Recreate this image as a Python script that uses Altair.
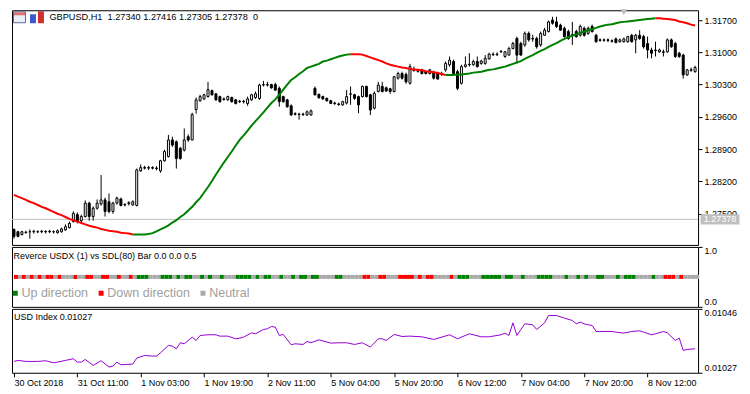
import altair as alt
import pandas as pd

F = "Liberation Sans"

# ---------------- data: GBPUSD H1 candles (index 0 = 30 Oct 2018 19:00) -------------
opens = [1.2716,1.2711,1.2705,1.2709,1.2711,1.2711,1.2711,1.2712,1.2711,1.2712,
         1.2711,1.2709,1.2711,1.2715,1.2720,1.2733,1.2748,1.2735,1.2744,1.2773,
         1.2744,1.2762,1.2771,1.2780,1.2776,1.2755,1.2773,1.2782,1.2770,1.2772,
         1.2769,1.2768,1.2843,1.2850,1.2849,1.2850,1.2849,1.2843,1.2865,1.2874,
         1.2910,1.2906,1.2892,1.2888,1.2917,1.2910,1.2976,1.2995,1.2999,1.3004,
         1.3017,1.3010,1.3004,1.2999,1.2997,1.3002,1.2997,1.2993,1.2994,1.2989,
         1.2997,1.3002,1.3000,1.3029,1.3030,1.3030,1.3030,1.3022,1.3004,1.2997,
         1.2984,1.2967,1.2965,1.2966,1.2964,1.2964,1.3022,1.3009,1.3004,1.3000,
         1.2995,1.2990,1.2988,1.2986,1.2990,1.3009,1.3008,1.3004,1.3004,1.3026,
         1.3008,1.2979,1.3015,1.3026,1.3023,1.3021,1.3015,1.3044,1.3054,1.3052,
         1.3033,1.3062,1.3060,1.3062,1.3058,1.3054,1.3057,1.3054,1.3052,1.3062,
         1.3073,1.3080,1.3058,1.3033,1.3069,1.3074,1.3073,1.3080,1.3076,1.3076,
         1.3086,1.3096,1.3095,1.3101,1.3091,1.3094,1.3108,1.3130,1.3119,1.3116,
         1.3141,1.3130,1.3130,1.3116,1.3137,1.3145,1.3170,1.3166,1.3159,1.3152,
         1.3145,1.3138,1.3145,1.3137,1.3152,1.3141,1.3156,1.3137,1.3127,1.3126,
         1.3127,1.3125,1.3129,1.3123,1.3123,1.3123,1.3137,1.3127,1.3137,1.3134,
         1.3119,1.3105,1.3105,1.3101,1.3101,1.3101,1.3127,1.3119,1.3098,1.3094,
         1.3051,1.3062,1.3058]
highs = [1.2718,1.2713,1.2713,1.2713,1.2716,1.2715,1.2714,1.2715,1.2714,1.2715,
         1.2714,1.2716,1.2720,1.2727,1.2733,1.2755,1.2753,1.2748,1.2779,1.2776,
         1.2766,1.2781,1.2834,1.2785,1.2794,1.2776,1.2787,1.2785,1.2773,1.2777,
         1.2779,1.2848,1.2857,1.2854,1.2854,1.2853,1.2853,1.2867,1.2889,1.2921,
         1.2917,1.2909,1.2895,1.2935,1.2922,1.2969,1.3002,1.3008,1.3010,1.3036,
         1.3019,1.3012,1.3006,1.3002,1.3006,1.3004,1.2999,1.2997,1.2997,1.3004,
         1.3010,1.3015,1.3032,1.3038,1.3036,1.3032,1.3034,1.3026,1.3006,1.2999,
         1.2987,1.2970,1.2969,1.2969,1.2974,1.2976,1.3026,1.3010,1.3006,1.3002,
         1.2997,1.2993,1.2991,1.2995,1.3018,1.3026,1.3010,1.3006,1.3028,1.3028,
         1.3010,1.3015,1.3036,1.3036,1.3026,1.3023,1.3049,1.3058,1.3058,1.3056,
         1.3075,1.3069,1.3064,1.3064,1.3060,1.3064,1.3060,1.3058,1.3058,1.3080,
         1.3091,1.3084,1.3062,1.3073,1.3091,1.3098,1.3084,1.3091,1.3084,1.3094,
         1.3099,1.3100,1.3100,1.3105,1.3103,1.3112,1.3123,1.3134,1.3123,1.3145,
         1.3145,1.3138,1.3134,1.3145,1.3153,1.3169,1.3177,1.3177,1.3162,1.3156,
         1.3149,1.3166,1.3149,1.3160,1.3156,1.3156,1.3160,1.3140,1.3130,1.3130,
         1.3130,1.3128,1.3132,1.3130,1.3132,1.3136,1.3140,1.3140,1.3148,1.3138,
         1.3134,1.3110,1.3123,1.3108,1.3106,1.3130,1.3130,1.3123,1.3101,1.3097,
         1.3064,1.3067,1.3071]
lows = [1.2696,1.2699,1.2703,1.2707,1.2696,1.2707,1.2708,1.2708,1.2707,1.2708,
        1.2707,1.2707,1.2709,1.2713,1.2718,1.2731,1.2729,1.2731,1.2742,1.2735,
        1.2735,1.2759,1.2768,1.2744,1.2751,1.2750,1.2770,1.2766,1.2766,1.2768,
        1.2768,1.2766,1.2841,1.2846,1.2845,1.2846,1.2844,1.2839,1.2863,1.2872,
        1.2895,1.2848,1.2867,1.2885,1.2906,1.2909,1.2967,1.2993,1.2997,1.3002,
        1.3006,1.2995,1.2991,1.2995,1.2995,1.2991,1.2987,1.2990,1.2989,1.2984,
        1.2995,1.2999,1.2997,1.3026,1.3026,1.3021,1.3017,1.2982,1.2991,1.2980,
        1.2963,1.2963,1.2954,1.2962,1.2963,1.2963,1.3006,1.2999,1.2997,1.2993,
        1.2988,1.2986,1.2984,1.2984,1.2987,1.2986,1.2997,1.2968,1.3002,1.3002,
        1.2964,1.2976,1.3013,1.3013,1.3015,1.3010,1.3013,1.3041,1.3041,1.3032,
        1.3030,1.3058,1.3056,1.3052,1.3052,1.3052,1.3041,1.3041,1.3049,1.3058,
        1.3069,1.3052,1.3018,1.3030,1.3067,1.3069,1.3071,1.3067,1.3073,1.3073,
        1.3084,1.3092,1.3092,1.3099,1.3088,1.3093,1.3107,1.3076,1.3093,1.3112,
        1.3123,1.3123,1.3108,1.3112,1.3136,1.3143,1.3160,1.3153,1.3147,1.3132,
        1.3127,1.3116,1.3132,1.3134,1.3134,1.3138,1.3143,1.3121,1.3123,1.3123,
        1.3122,1.3121,1.3120,1.3121,1.3121,1.3121,1.3121,1.3098,1.3127,1.3108,
        1.3087,1.3087,1.3091,1.3099,1.3091,1.3099,1.3110,1.3088,1.3088,1.3043,
        1.3049,1.3058,1.3056]
closes = [1.2701,1.2701,1.2711,1.2710,1.2711,1.2712,1.2711,1.2711,1.2712,1.2711,
          1.2711,1.2713,1.2717,1.2722,1.2729,1.2751,1.2733,1.2744,1.2773,1.2744,
          1.2762,1.2773,1.2780,1.2755,1.2755,1.2773,1.2784,1.2768,1.2769,1.2774,
          1.2776,1.2845,1.2850,1.2849,1.2850,1.2849,1.2848,1.2865,1.2885,1.2910,
          1.2899,1.2870,1.2870,1.2910,1.2910,1.2965,1.2997,1.3004,1.3008,1.3019,
          1.3008,1.2997,1.2993,1.2998,1.3004,1.2993,1.2989,1.2994,1.2993,1.2999,
          1.3008,1.3010,1.3029,1.3030,1.3029,1.3023,1.3018,1.2993,1.2993,1.2982,
          1.2964,1.2966,1.2966,1.2965,1.2971,1.2973,1.3008,1.3002,1.2999,1.2995,
          1.2989,1.2989,1.2987,1.2993,1.3004,1.3010,1.3000,1.2986,1.3026,1.3004,
          1.2975,1.3011,1.3029,1.3015,1.3016,1.3015,1.3047,1.3054,1.3044,1.3036,
          1.3069,1.3061,1.3059,1.3054,1.3054,1.3062,1.3044,1.3042,1.3054,1.3076,
          1.3083,1.3054,1.3022,1.3069,1.3073,1.3073,1.3080,1.3069,1.3081,1.3087,
          1.3096,1.3095,1.3096,1.3102,1.3101,1.3108,1.3119,1.3094,1.3094,1.3141,
          1.3127,1.3129,1.3112,1.3141,1.3148,1.3166,1.3163,1.3156,1.3148,1.3134,
          1.3130,1.3137,1.3134,1.3156,1.3137,1.3152,1.3145,1.3123,1.3126,1.3127,
          1.3126,1.3124,1.3121,1.3127,1.3129,1.3134,1.3123,1.3137,1.3130,1.3112,
          1.3105,1.3098,1.3104,1.3105,1.3100,1.3127,1.3112,1.3091,1.3091,1.3051,
          1.3062,1.3061,1.3067]

# SDL(80) moving average, one value per candle
ma_sdl = [1.2791,1.2787,1.2784,1.2780,1.2776,1.2773,1.2769,1.2765,1.2762,1.2758,
          1.2754,1.2750,1.2747,1.2743,1.2739,1.2736,1.2733,1.2730,1.2727,1.2724,
          1.2722,1.2720,1.2717,1.2715,1.2713,1.2712,1.2711,1.2709,1.2708,1.2707,
          1.2705,1.2705,1.2705,1.2705,1.2706,1.2708,1.2712,1.2716,1.2720,1.2725,
          1.2731,1.2736,1.2743,1.2749,1.2757,1.2765,1.2775,1.2784,1.2796,1.2808,
          1.2821,1.2835,1.2848,1.2861,1.2873,1.2885,1.2898,1.2910,1.2920,1.2930,
          1.2941,1.2951,1.2960,1.2970,1.2980,1.2990,1.2998,1.3008,1.3019,1.3030,
          1.3040,1.3046,1.3053,1.3059,1.3066,1.3069,1.3072,1.3075,1.3080,1.3082,
          1.3085,1.3088,1.3091,1.3093,1.3095,1.3096,1.3096,1.3096,1.3095,1.3092,
          1.3089,1.3086,1.3083,1.3080,1.3076,1.3073,1.3071,1.3069,1.3067,1.3066,
          1.3064,1.3063,1.3062,1.3061,1.3059,1.3058,1.3057,1.3055,1.3053,1.3051,
          1.3051,1.3051,1.3052,1.3052,1.3053,1.3054,1.3056,1.3057,1.3058,1.3060,
          1.3062,1.3063,1.3065,1.3067,1.3069,1.3072,1.3075,1.3078,1.3081,1.3086,
          1.3090,1.3094,1.3099,1.3103,1.3107,1.3112,1.3116,1.3120,1.3125,1.3129,
          1.3133,1.3136,1.3139,1.3142,1.3145,1.3148,1.3150,1.3153,1.3156,1.3158,
          1.3160,1.3161,1.3163,1.3165,1.3166,1.3167,1.3168,1.3169,1.3170,1.3171,
          1.3172,1.3173,1.3174,1.3174,1.3173,1.3172,1.3171,1.3170,1.3167,1.3165,
          1.3163,1.3160,1.3158]
ma_segments = [(0, 30, "down"), (30, 85, "up"), (85, 109, "down"),
               (109, 162, "up"), (162, 172, "down")]

# Reverce USDX bar states
up_bars = [31, 32, 33, 37, 38, 39, 41, 43, 44, 47, 49, 52, 56, 57, 58, 59, 61, 63, 64,
           67, 70, 72, 73, 75, 76, 81, 82, 112, 113, 114, 118, 119, 120, 121, 122,
           124, 125, 128, 132, 133, 134, 135, 139, 142, 144, 147, 148, 152, 154, 155,
           156, 161]
down_bars = [0, 2, 4, 6, 8, 9, 11, 15, 18, 19, 22, 23, 26, 29, 88, 89, 92, 93, 97,
             98, 99, 100, 102, 104, 105, 110, 164, 165, 166, 168]
bar_level = 0.5

# USD Index
usd_i = [0, 1, 3, 6, 8, 10, 11, 13, 15, 16, 17, 18, 20, 22, 24, 25, 26, 27, 30, 31,
         33, 35, 36, 37, 39, 40, 41, 42, 43, 45, 46, 47, 49, 51, 52, 54, 56, 57, 58,
         60, 61, 63, 64, 65, 66, 67, 68, 70, 71, 73, 74, 75, 77, 80, 82, 84, 86, 88,
         90, 92, 93, 94, 96, 98, 100, 103, 106, 110, 112, 115, 118, 120, 123, 124,
         125, 126, 127, 129, 131, 132, 134, 135, 137, 139, 141, 142, 143, 144, 145,
         146, 147, 149, 151, 152, 154, 156, 158, 159, 161, 162, 164, 165, 167, 168,
         169, 170, 172]
usd_v = [0.0103037, 0.0103067, 0.0103037, 0.0103037, 0.0103057, 0.0102997, 0.0103017,
         0.0103067, 0.0103116, 0.0103017, 0.0103017, 0.0103096, 0.0102918, 0.0103057,
         0.0102869, 0.0102898, 0.0103017, 0.0102938, 0.0102958, 0.0103136, 0.0103215,
         0.0103195, 0.0103195, 0.0103294, 0.0103512, 0.0103492, 0.0103413, 0.0103591,
         0.0103562, 0.0103760, 0.0103661, 0.0103809, 0.0103829, 0.0103829, 0.0103789,
         0.0103789, 0.0103710, 0.0103730, 0.0103760, 0.0103888, 0.0103859, 0.0103987,
         0.0104007, 0.0104076, 0.0104056, 0.0103809, 0.0103839, 0.0103532, 0.0103562,
         0.0103542, 0.0103631, 0.0103591, 0.0103680, 0.0103581, 0.0103591, 0.0103591,
         0.0103542, 0.0103591, 0.0103463, 0.0103710, 0.0103710, 0.0103661, 0.0103839,
         0.0103779, 0.0103789, 0.0103769, 0.0103690, 0.0103829, 0.0103710, 0.0103859,
         0.0103769, 0.0103769, 0.0103829, 0.0103878, 0.0103809, 0.0104185, 0.0103809,
         0.0104156, 0.0104126, 0.0103987, 0.0104185, 0.0104403, 0.0104403, 0.0104324,
         0.0104254, 0.0104156, 0.0104205, 0.0104156, 0.0104126, 0.0104106, 0.0103928,
         0.0103928, 0.0103928, 0.0103908, 0.0103878, 0.0103928, 0.0103948, 0.0103908,
         0.0103829, 0.0103859, 0.0103928, 0.0103888, 0.0103661, 0.0103730, 0.0103364,
         0.0103393, 0.0103413]

tick_pos = [0, 16, 32, 48, 64, 80, 96, 112, 128, 144, 160]
tick_labels = ["30 Oct 2018", "31 Oct 11:00", "1 Nov 03:00", "1 Nov 19:00",
               "2 Nov 11:00", "5 Nov 04:00", "5 Nov 20:00", "6 Nov 12:00",
               "7 Nov 04:00", "7 Nov 20:00", "8 Nov 12:00"]
price_ticks = [1.275, 1.282, 1.289, 1.296, 1.303, 1.310, 1.317]
usd_ticks = [0.01027, 0.01046]
last_price = 1.27378
shift_marker_i = 154
header = "GBPUSD,H1\u00a0 1.27340 1.27416 1.27305 1.27378\u00a0 0"
mid_title = "Reverce USDX (1) vs SDL(80) Bar 0.0 0.0 0.5"
bot_title = "USD Index 0.01027"

N = len(opens)
W = 687

# ---------------- scales / axes ----------------
xs = alt.Scale(domain=[-0.5, N - 0.25], nice=False, zero=False)
ys_main = alt.Scale(domain=[1.26824, 1.31912], nice=False, zero=False)
ys_mid = alt.Scale(domain=[0, 1], nice=False, zero=False, padding=0)
ys_bot = alt.Scale(domain=[0.01027, 0.01046], nice=False, zero=False)

ax_common = dict(orient="right", title=None, grid=False, domain=False, tickSize=4,
                 tickColor="black", labelColor="black", labelFont=F, labelFontSize=9,
                 labelPadding=2)
main_axis = alt.Axis(values=price_ticks, format=".5f", **ax_common)
mid_axis = alt.Axis(values=[0, 1], format=".1f",
                    labelBaseline={"condition": {"test": "datum.value > 0.5", "value": "top"},
                                   "value": "bottom"}, **ax_common)
bot_axis = alt.Axis(values=usd_ticks, format=".5f",
                    labelBaseline={"condition": {"test": "datum.value > 0.010365", "value": "top"},
                                   "value": "bottom"}, **ax_common)

# ---------------- main panel ----------------
candles = pd.DataFrame({"i": list(range(N)), "open": opens, "high": highs,
                        "low": lows, "close": closes})
price_df = pd.DataFrame({"p": [last_price]})

price_line = alt.Chart(price_df).mark_rule(color="#c0c0c0", strokeWidth=1).encode(
    y=alt.Y("p:Q", scale=ys_main, axis=main_axis))

wicks = alt.Chart(candles).mark_rule(color="black", strokeWidth=1).encode(
    x=alt.X("i:Q", scale=xs, axis=None),
    y=alt.Y("low:Q", scale=ys_main, axis=main_axis),
    y2="high:Q")

bodies = alt.Chart(candles).transform_calculate(
    xa="datum.i - 0.25", xb="datum.i + 0.25"
).mark_rect(stroke="black", strokeWidth=1).encode(
    x=alt.X("xa:Q", scale=xs, axis=None), x2="xb:Q",
    y=alt.Y("open:Q", scale=ys_main, axis=main_axis), y2="close:Q",
    fill=alt.condition("datum.close >= datum.open", alt.value("white"), alt.value("black")))

ma_rows = []
for s, (a, b, d) in enumerate(ma_segments):
    for i in range(a, b + 1):
        ma_rows.append({"i": i, "ma": ma_sdl[i], "seg": s, "dir": d})
ma_line = alt.Chart(pd.DataFrame(ma_rows)).mark_line(strokeWidth=2).encode(
    x=alt.X("i:Q", scale=xs, axis=None),
    y=alt.Y("ma:Q", scale=ys_main, axis=main_axis),
    detail="seg:N", order="i:Q",
    color=alt.Color("dir:N", scale=alt.Scale(domain=["up", "down"],
                                             range=["#008000", "#ff0000"]), legend=None))

price_box = alt.Chart(price_df).mark_point(
    shape="M-1,-0.26H1V0.26H-1Z", size=1521, filled=True, color="#c0c0c0", opacity=1
).encode(y=alt.Y("p:Q", scale=ys_main, axis=main_axis), x=alt.value(709))
price_txt = alt.Chart(price_df).mark_text(color="white", font=F, fontSize=9).encode(
    y=alt.Y("p:Q", scale=ys_main, axis=main_axis), x=alt.value(709),
    text=alt.Text("p:Q", format=".5f"))

marker = alt.Chart(pd.DataFrame({"m": [shift_marker_i]})).mark_point(
    shape="triangle-down", filled=True, color="#c0c0c0", size=45, opacity=1
).encode(x=alt.X("m:Q", scale=xs, axis=None), y=alt.value(2))

one = pd.DataFrame({"k": [0]})
icon1 = alt.Chart(one).mark_rect(fill="#e8eefa", stroke="#5a6a9a", strokeWidth=1).encode(
    x=alt.value(1.5), x2=alt.value(13.5), y=alt.value(1.5), y2=alt.value(12.5))
icon1b = alt.Chart(one).mark_rect(fill="#e07070").encode(
    x=alt.value(2), x2=alt.value(13), y=alt.value(2), y2=alt.value(5))
icon2a = alt.Chart(one).mark_rect(fill="#3a5ad0").encode(
    x=alt.value(18), x2=alt.value(24), y=alt.value(4), y2=alt.value(13))
icon2b = alt.Chart(one).mark_rect(fill="#d03030").encode(
    x=alt.value(26), x2=alt.value(32), y=alt.value(1), y2=alt.value(13))

head = alt.Chart(pd.DataFrame({"t": [header]})).mark_text(
    align="left", baseline="middle", font=F, fontSize=9.2, color="black"
).encode(x=alt.value(37.5), y=alt.value(6.5), text="t:N")

main = alt.layer(price_line, wicks, bodies, ma_line, price_box, price_txt, marker,
                 icon1, icon1b, icon2a, icon2b, head).properties(width=W, height=235)

# ---------------- middle panel ----------------
states = ["Neutral"] * N
for i in up_bars:
    states[i] = "Up direction"
for i in down_bars:
    states[i] = "Down direction"
bars_df = pd.DataFrame({"i": list(range(N)), "state": states, "lvl": [bar_level] * N})

mid_bars = alt.Chart(bars_df).transform_calculate(ib="datum.i + 1").mark_bar(
    size=4, orient="horizontal"
).encode(
    x=alt.X("i:Q", scale=xs, axis=None), x2="ib:Q",
    y=alt.Y("lvl:Q", scale=ys_mid, axis=mid_axis),
    color=alt.Color("state:N",
                    scale=alt.Scale(domain=["Up direction", "Down direction", "Neutral"],
                                    range=["#008000", "#ff0000", "#a9a9a9"]),
                    legend=alt.Legend(title=None, orient="none", legendX=-3, legendY=40,
                                      direction="horizontal",
                                      symbolType="square", symbolSize=25, symbolStrokeWidth=0,
                                      labelFont=F, labelFontSize=12.5, labelColor="#a0a0a0",
                                      padding=0, columnPadding=6, labelOffset=0)))
mid_txt = alt.Chart(pd.DataFrame({"t": [mid_title]})).mark_text(
    align="left", baseline="middle", font=F, fontSize=9, color="black"
).encode(x=alt.value(1.5), y=alt.value(9.5), text="t:N")
mid = alt.layer(mid_bars, mid_txt).properties(width=W, height=60)

# ---------------- bottom panel ----------------
usd_df = pd.DataFrame({"i": usd_i, "v": usd_v})
x_axis = alt.Axis(values=tick_pos, title=None, grid=False, domain=False, tickSize=4,
                  tickColor="black", labelColor="black", labelFont=F, labelFontSize=9,
                  labelAlign="left", labelPadding=2, labelFlush=False,
                  labelExpr="[" + ",".join("'%s'" % s for s in tick_labels) + "][round(datum.value/16)]")
usd_line = alt.Chart(usd_df).mark_line(color="#9400d3", strokeWidth=1).encode(
    x=alt.X("i:Q", scale=xs, axis=x_axis),
    y=alt.Y("v:Q", scale=ys_bot, axis=bot_axis))
bot_txt = alt.Chart(pd.DataFrame({"t": [bot_title]})).mark_text(
    align="left", baseline="middle", font=F, fontSize=9, color="black"
).encode(x=alt.value(2), y=alt.value(8.5), text="t:N")
bot = alt.layer(usd_line, bot_txt).properties(width=W, height=64)

chart = alt.vconcat(main, mid, bot, spacing=2, bounds="flush").resolve_scale(
    color="independent"
).properties(
    padding={"left": 0, "top": 0, "right": 2, "bottom": 2},
    background="white"
).configure_view(stroke="black", strokeWidth=1, fill="white")

chart.save("out.html", embed_options={"renderer": "svg", "actions": False})
